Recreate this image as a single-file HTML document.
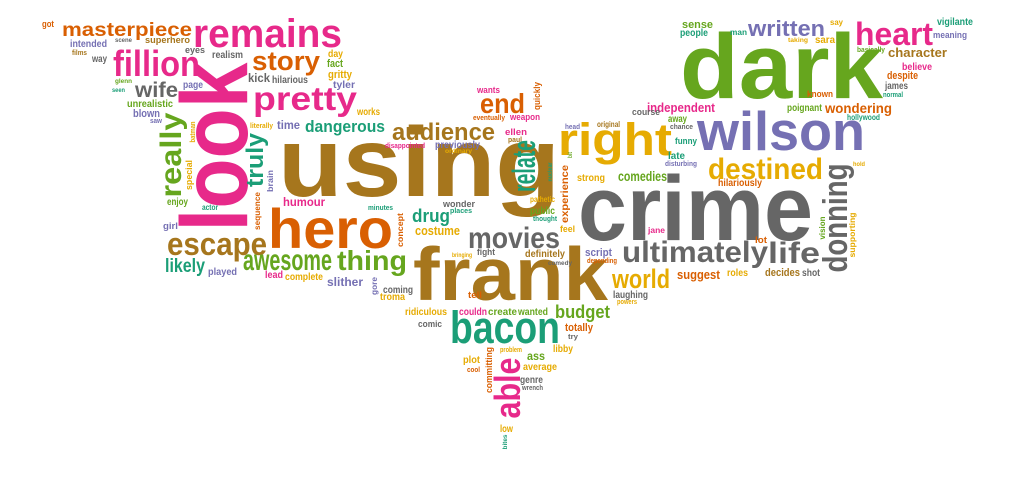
<!DOCTYPE html>
<html>
<head>
<meta charset="utf-8">
<style>
html,body{margin:0;padding:0;background:#fff;}
svg{display:block;}
text{font-family:"Liberation Sans","DejaVu Sans",sans-serif;font-weight:bold;}
</style>
</head>
<body>
<svg id="cloud" width="1023" height="504" viewBox="0 0 1023 504" xmlns="http://www.w3.org/2000/svg">
<rect width="1023" height="504" fill="#ffffff"/>
<g id="words"></g>
</svg>
<script>
var C={t:'#1b9e77',o:'#d95f02',p:'#7570b3',k:'#e7298a',g:'#66a61e',y:'#e6ab02',b:'#a6761d',a:'#666666'};
// horizontal words: text, left x, baseline y, length, font size, colour key
var words=[
["dark",680,98,203,92,'g'],["crime",578,240,235,92,'a'],["using",278,196,282,98,'b'],
["frank",413,300,195,75,'b'],["hero",268,248,125,56,'o'],["wilson",697,150,168,55,'p'],
["right",558,155,114,45,'y'],["bacon",450,343,110,45,'t'],["remains",193,47,149,40,'k'],
["fillion",113,76,87,36,'k'],["pretty",253,110,104,33,'k'],["story",252,70,68,27,'o'],
["wife",135,97,43,21,'a'],["masterpiece",62,36,130,19,'o'],["escape",167,255,100,32,'b'],
["awesome",243,270,89,30,'g'],["thing",337,270,70,28,'g'],["likely",165,272,40,19,'t'],
["dangerous",305,132,80,17,'t'],["audience",392,140,103,24,'b'],["humour",283,206,42,12,'k'],
["drug",412,222,38,18,'t'],["costume",415,235,45,13,'y'],["movies",468,248,92,30,'a'],
["budget",555,318,55,18,'g'],["world",612,288,58,27,'y'],["ultimately",622,262,146,30,'a'],
["life",768,263,52,30,'a'],["destined",708,179,115,30,'y'],["heart",855,45,78,32,'k'],
["written",748,36,77,22,'p'],["character",888,57,59,13,'b'],["independent",647,112,68,13,'k'],
["wondering",825,113,67,14,'o'],["end",480,113,45,28,'o'],["comedies",618,181,49,14,'g'],
["got",42,27,12,9,'o'],["intended",70,47,37,10,'p'],["scene",115,42,17,6,'a'],
["superhero",145,43,45,9,'b'],["films",72,55,15,7,'b'],["way",92,62,15,10,'a'],
["eyes",185,53,20,9,'a'],["realism",212,58,31,10,'a'],["day",328,57,15,10,'y'],
["fact",327,67,16,11,'g'],["kick",248,82,22,12,'a'],["hilarious",272,83,36,10,'a'],
["gritty",328,78,24,11,'y'],["tyler",333,88,22,10,'p'],["glenn",115,83,17,6,'g'],
["seen",112,92,13,6,'t'],["page",183,88,20,10,'p'],["unrealistic",127,107,46,10,'g'],
["blown",133,117,27,11,'p'],["saw",150,123,12,7,'p'],["works",357,115,23,10,'y'],
["literally",250,128,23,7,'y'],["time",277,129,23,12,'p'],["enjoy",167,205,21,10,'g'],
["actor",202,210,16,8,'t'],["girl",163,229,15,9,'p'],["played",208,275,29,10,'p'],
["lead",265,278,18,10,'k'],["complete",285,280,38,10,'y'],["slither",327,286,36,12,'p'],
["coming",383,293,30,10,'a'],["troma",380,300,25,10,'y'],["minutes",368,210,25,7,'t'],
["wonder",443,207,32,9,'a'],["places",450,213,22,7,'t'],["disappointed",385,148,40,7,'k'],
["previously",435,148,45,10,'p'],["ordinary",445,153,27,6,'y'],["ellen",505,135,22,9,'k'],
["paul",508,142,14,7,'b'],["wants",477,93,23,9,'k'],["eventually",473,120,32,7,'o'],
["weapon",510,120,30,9,'k'],["bringing",452,257,20,6,'y'],["fight",477,255,18,9,'a'],
["tell",468,298,14,9,'o'],["ridiculous",405,315,42,10,'y'],["couldn",459,315,28,10,'k'],
["create",488,315,29,10,'g'],["wanted",518,315,30,10,'g'],["comic",418,327,24,9,'a'],
["totally",565,331,28,11,'o'],["try",568,339,10,7,'a'],["libby",553,352,20,10,'y'],
["problem",500,352,22,7,'y'],["ass",527,360,18,12,'g'],["plot",463,363,17,10,'y'],
["average",523,370,34,10,'y'],["cool",467,372,13,7,'o'],["genre",520,383,23,10,'a'],
["wrench",522,390,21,7,'a'],["low",500,432,13,10,'y'],["laughing",613,298,35,10,'a'],
["powers",617,304,20,7,'y'],["suggest",677,279,43,13,'o'],["definitely",525,257,40,10,'b'],
["script",585,256,27,11,'p'],["depending",587,263,30,7,'o'],["comedy",548,265,24,6,'a'],
["sense",682,28,31,11,'g'],["people",680,36,28,10,'t'],["man",730,35,17,8,'t'],
["say",830,25,13,8,'y'],["taking",788,42,20,6,'y'],["sara",815,43,20,10,'y'],
["vigilante",937,25,36,10,'t'],["meaning",933,38,34,9,'p'],["basically",857,52,28,7,'g'],
["believe",902,70,30,10,'k'],["despite",887,79,31,11,'o'],["james",885,89,23,10,'a'],
["normal",883,97,20,7,'t'],["known",807,97,26,9,'o'],["poignant",787,111,35,10,'g'],
["hollywood",847,120,33,8,'t'],["course",632,115,28,9,'a'],["away",668,122,19,10,'g'],
["chance",670,129,23,7,'a'],["head",565,129,15,7,'p'],["original",597,127,23,8,'b'],
["funny",675,144,22,9,'t'],["late",668,159,17,10,'t'],["disturbing",665,166,32,7,'p'],
["strong",577,181,28,10,'y'],["hilariously",718,186,44,10,'o'],["hold",853,166,12,6,'y'],
["pathetic",530,202,25,8,'y'],["public",530,214,25,10,'g'],["thought",533,221,24,7,'t'],
["feel",560,232,15,9,'y'],["jane",648,233,17,8,'k'],["lot",755,243,12,9,'o'],
["roles",727,276,21,10,'y'],["decides",765,276,35,11,'b'],["shot",802,276,18,10,'a']
];
// vertical words (rotated -90): text, baseline x, centre y, length, font size, colour key
var vwords=[
["look",247,147,169,95,'k'],["really",181,155,85,30,'g'],["truly",263,160,54,24,'t'],
["relate",535,166,52,32,'t'],["able",520,388,61,36,'k'],["donning",847,218,109,34,'a'],
["batman",195,132,21,7,'y'],["special",192,175,30,9,'y'],["brain",273,181,22,8,'p'],
["sequence",260,211,38,8,'o'],["gore",377,286,18,8,'p'],["concept",403,230,34,8,'o'],
["committing",492,370,46,9,'o'],["bites",507,442,15,6,'t'],["bit",572,155,6,6,'g'],
["nuclear",552,172,19,6,'t'],["experience",568,194,58,10,'o'],["vision",825,228,23,8,'g'],
["supporting",855,235,45,8,'y'],["quickly",540,96,28,9,'o']
];
var NS='http://www.w3.org/2000/svg';
var g=document.getElementById('words');
words.forEach(function(w){
  var t=document.createElementNS(NS,'text');
  t.setAttribute('x',w[1]);
  t.setAttribute('y',w[2]);
  t.setAttribute('font-size',w[4]);
  t.setAttribute('fill',C[w[5]]);
  t.setAttribute('textLength',w[3]);
  t.setAttribute('lengthAdjust','spacingAndGlyphs');
  
  
  t.textContent=w[0];
  g.appendChild(t);
});
vwords.forEach(function(w){
  var t=document.createElementNS(NS,'text');
  t.setAttribute('x',0);
  t.setAttribute('y',0);
  t.setAttribute('text-anchor','middle');
  t.setAttribute('font-size',w[4]);
  t.setAttribute('fill',C[w[5]]);
  t.setAttribute('textLength',w[3]);
  t.setAttribute('lengthAdjust','spacingAndGlyphs');
  t.setAttribute('transform','translate('+w[1]+','+w[2]+') rotate(-90)');
  
  
  t.textContent=w[0];
  g.appendChild(t);
});
</script>
</body>
</html>
